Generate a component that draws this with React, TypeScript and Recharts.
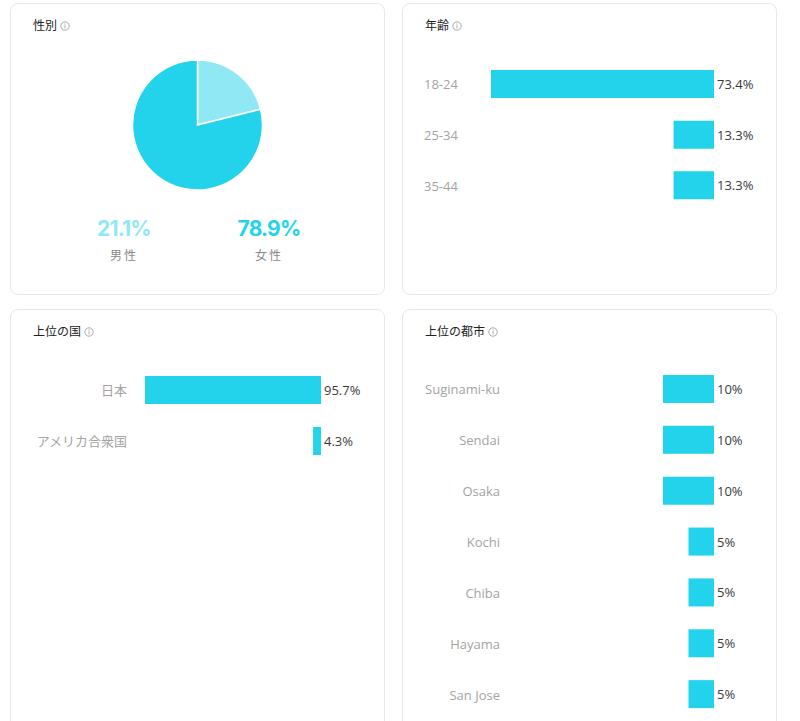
import { BarChart, Bar, XAxis, YAxis, PieChart, Pie, Cell, LabelList } from 'recharts';

const genderLabels = ['男性', '女性'];
const genderShares = [21.1, 78.9];
const genderColors = ['#8fe8f4', '#22d3eb'];

const ageGroups = ['18-24', '25-34', '35-44'];
const ageShares = [73.4, 13.3, 13.3];

const countries = ['日本', 'アメリカ合衆国'];
const countryShares = [95.7, 4.3];

const cities = ['Suginami-ku', 'Sendai', 'Osaka', 'Kochi', 'Chiba', 'Hayama', 'San Jose'];
const cityShares = [10, 10, 10, 5, 5, 5, 5];

const BAR_COLOR = '#22d3eb';
const FONT = "'Open Sans', 'Noto Sans CJK JP', sans-serif";

function InfoIcon() {
  return (
    <svg width={10} height={10} viewBox="0 0 10 10" style={{ marginLeft: 3 }}>
      <circle cx={5} cy={5} r={4.2} fill="none" stroke="#a0a0a0" strokeWidth={0.9} />
      <line x1={5} y1={4.3} x2={5} y2={7.3} stroke="#a0a0a0" strokeWidth={0.9} />
      <circle cx={5} cy={2.9} r={0.55} fill="#a0a0a0" />
    </svg>
  );
}

function Card({ left, top, height, title, children }: any) {
  return (
    <div
      style={{
        position: 'absolute',
        left,
        top,
        width: 375,
        height,
        boxSizing: 'border-box',
        border: '1px solid #e8e8e8',
        borderRadius: 8,
        background: '#fff',
      }}
    >
      <div
        style={{
          position: 'absolute',
          left: 22,
          top: 13,
          fontSize: 12,
          lineHeight: '18px',
          color: '#222',
          display: 'flex',
          alignItems: 'center',
        }}
      >
        {title}
        <InfoIcon />
      </div>
      {children}
    </div>
  );
}

function CategoryTick({ y, payload, labelX, anchor }: any) {
  return (
    <text x={labelX} y={y} textAnchor={anchor} dominantBaseline="central" fill="#a3a3a3" fontSize={13} fontFamily={FONT}>
      {payload.value}
    </text>
  );
}

function ValueLabel({ x, y, width, height, value }: any) {
  const right = Math.max(Number(x), Number(x) + Number(width));
  return (
    <text x={right + 3} y={Number(y) + Number(height) / 2} dominantBaseline="central" fill="#3a3a3a" fontSize={13} fontFamily={FONT}>
      {`${value}%`}
    </text>
  );
}

function HBarChart({ names, values, width, height, margin, axisWidth, domain, labelX, anchor }: any) {
  const data = names.map((name: string, i: number) => ({ name, value: values[i] }));
  return (
    <BarChart layout="vertical" width={width} height={height} data={data} margin={margin}>
      <XAxis type="number" hide reversed domain={domain} />
      <YAxis
        type="category"
        dataKey="name"
        width={axisWidth}
        axisLine={false}
        tickLine={false}
        interval={0}
        tick={(p: any) => <CategoryTick {...p} labelX={labelX} anchor={anchor} />}
      />
      <Bar dataKey="value" fill={BAR_COLOR} barSize={28} isAnimationActive={false}>
        <LabelList dataKey="value" content={(p: any) => <ValueLabel {...p} />} />
      </Bar>
    </BarChart>
  );
}

export default function App() {
  const genderData = genderLabels.map((name, i) => ({ name, value: genderShares[i] }));
  const statCenters = [113, 258];

  return (
    <div style={{ position: 'absolute', left: 0, top: 0, width: 800, height: 721, overflow: 'hidden', background: '#fff', fontFamily: FONT }}>
      <Card left={10} top={3} height={292} title="性別">
        <div style={{ position: 'absolute', left: -1, top: -1 }}>
          <PieChart width={375} height={200}>
            <Pie
              data={genderData}
              dataKey="value"
              cx={182.5}
              cy={117}
              outerRadius={65}
              startAngle={90}
              endAngle={-270}
              stroke="#fff"
              strokeWidth={1.5}
              isAnimationActive={false}
            >
              {genderData.map((d, i) => (
                <Cell key={d.name} fill={genderColors[i]} />
              ))}
            </Pie>
          </PieChart>
        </div>
        {genderData.map((d, i) => (
          <div
            key={d.name}
            style={{ position: 'absolute', left: statCenters[i] - 60, top: 212, width: 120, textAlign: 'center' }}
          >
            <div style={{ fontFamily: 'Inter, sans-serif', fontWeight: 700, fontSize: 21, lineHeight: '26px', letterSpacing: -0.8, color: genderColors[i] }}>
              {`${d.value}%`}
            </div>
            <div style={{ fontSize: 12, lineHeight: '18px', marginTop: 5, color: '#8a8a8a', letterSpacing: 2 }}>{d.name}</div>
          </div>
        ))}
      </Card>

      <Card left={402} top={3} height={292} title="年齢">
        <div style={{ position: 'absolute', left: -3, top: 44 }}>
          <HBarChart
            names={ageGroups}
            values={ageShares}
            width={377}
            height={173}
            margin={{ top: 11, right: 63, bottom: 10, left: 24 }}
            axisWidth={67}
            domain={[0, 'dataMax']}
            labelX={24}
            anchor="start"
          />
        </div>
      </Card>

      <Card left={10} top={309} height={430} title="上位の国">
        <div style={{ position: 'absolute', left: -1, top: 44 }}>
          <HBarChart
            names={countries}
            values={countryShares}
            width={375}
            height={122}
            margin={{ top: 10, right: 64, bottom: 10, left: 0 }}
            axisWidth={135}
            domain={[0, 'dataMax']}
            labelX={117}
            anchor="end"
          />
        </div>
      </Card>

      <Card left={402} top={309} height={430} title="上位の都市">
        <div style={{ position: 'absolute', left: -1, top: 44 }}>
          <HBarChart
            names={cities}
            values={cityShares}
            width={375}
            height={379}
            margin={{ top: 10, right: 63, bottom: 13, left: 0 }}
            axisWidth={108}
            domain={[0, 40]}
            labelX={98}
            anchor="end"
          />
        </div>
      </Card>
    </div>
  );
}
